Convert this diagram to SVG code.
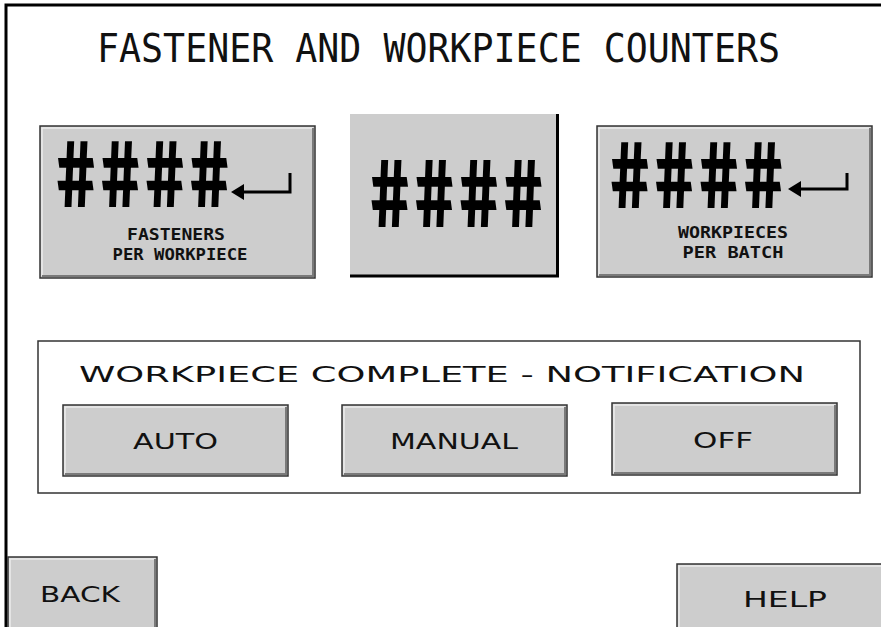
<svg xmlns="http://www.w3.org/2000/svg" width="881" height="627" viewBox="0 0 881 627">
<style>
.btn{fill:#cdcdcd;stroke:#333;stroke-width:1.5}
.hi{fill:none;stroke:#ececec;stroke-width:1.5}
.sh{fill:none;stroke:#7a7a7a;stroke-width:2}
.hash{font-family:"DejaVu Sans Mono",monospace;font-weight:bold;font-size:64px;fill:#000;letter-spacing:6px}
.lbl{font-family:"DejaVu Sans Mono","Liberation Mono",monospace;font-weight:bold;font-size:16px;fill:#111;text-anchor:middle}
.wide{font-family:"DejaVu Sans","Liberation Sans",sans-serif;font-size:21px;fill:#111}
.arr{fill:none;stroke:#000;stroke-width:3}
</style>
<rect width="881" height="627" fill="#fff"/>
<g id="frame">
<path d="M6,627 V5 H881" fill="none" stroke="#000" stroke-width="3"/>
</g>
<g id="title">
<text x="97" y="62" font-family="DejaVu Sans Mono,monospace" font-size="39" fill="#111" textLength="683" lengthAdjust="spacingAndGlyphs">FASTENER AND WORKPIECE COUNTERS</text>
</g>
<g id="fasteners">
<rect class="btn" x="40" y="126" width="275" height="152"/>
<path class="hi" d="M42,276 V128 H313"/>
<path class="sh" d="M42,276 H313 V128"/>
<text class="hash" transform="translate(61,207) scale(1,1.43) skewX(11)">####</text>
<path class="arr" d="M290,173 V192 H240"/>
<polygon points="231,192 244,184 244,200" fill="#000"/>
<text class="lbl" x="176" y="240" textLength="98" lengthAdjust="spacingAndGlyphs">FASTENERS</text>
<text class="lbl" x="180" y="260" textLength="135" lengthAdjust="spacingAndGlyphs">PER WORKPIECE</text>
</g>
<g id="total">
<rect x="350" y="114" width="208" height="162" fill="#cdcdcd"/>
<path d="M557.5,114 V276 H350" fill="none" stroke="#000" stroke-width="3"/>
<text class="hash" transform="translate(375,227) scale(1,1.46) skewX(11)">####</text>
</g>
<g id="workpieces">
<rect class="btn" x="597" y="126" width="275" height="151"/>
<path class="hi" d="M599,275 V128 H870"/>
<path class="sh" d="M599,275 H870 V128"/>
<text class="hash" transform="translate(615,208) scale(1,1.43) skewX(11)">####</text>
<path class="arr" d="M847,173 V189 H797"/>
<polygon points="788,189 801,181 801,197" fill="#000"/>
<text class="lbl" x="733" y="238" textLength="110" lengthAdjust="spacingAndGlyphs">WORKPIECES</text>
<text class="lbl" x="733" y="258" textLength="101" lengthAdjust="spacingAndGlyphs">PER BATCH</text>
</g>
<g id="notification">
<rect x="38" y="341" width="822" height="152" fill="none" stroke="#333" stroke-width="1.5"/>
<text class="wide" x="79" y="382" font-size="23" textLength="726" lengthAdjust="spacingAndGlyphs">WORKPIECE COMPLETE - NOTIFICATION</text>
</g>
<g id="auto">
<rect class="btn" x="63" y="405" width="225" height="71"/>
<path class="hi" d="M65,474 V407 H286"/>
<path class="sh" d="M65,474 H286 V407"/>
<text class="wide" x="133" y="449" textLength="85" lengthAdjust="spacingAndGlyphs">AUTO</text>
</g>
<g id="manual">
<rect class="btn" x="342" y="405" width="225" height="71"/>
<path class="hi" d="M344,474 V407 H565"/>
<path class="sh" d="M344,474 H565 V407"/>
<text class="wide" x="390" y="449" textLength="128" lengthAdjust="spacingAndGlyphs">MANUAL</text>
</g>
<g id="off">
<rect class="btn" x="612" y="403" width="225" height="72"/>
<path class="hi" d="M614,473 V405 H835"/>
<path class="sh" d="M614,473 H835 V405"/>
<text class="wide" x="693" y="448" textLength="60" lengthAdjust="spacingAndGlyphs">OFF</text>
</g>
<g id="back">
<rect class="btn" x="8" y="557" width="149" height="75"/>
<path class="hi" d="M10,630 V559 H155"/>
<path class="sh" d="M155,559 V630"/>
<text class="wide" x="40" y="602" textLength="80" lengthAdjust="spacingAndGlyphs">BACK</text>
</g>
<g id="help">
<rect class="btn" x="677" y="564" width="210" height="70"/>
<path class="hi" d="M679,630 V566 H887"/>
<text class="wide" x="743" y="607" textLength="84" lengthAdjust="spacingAndGlyphs">HELP</text>
</g>
</svg>
